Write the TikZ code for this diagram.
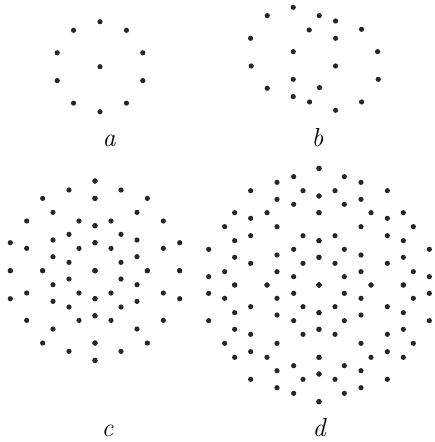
\documentclass[tikz,border=0pt]{standalone}
\usetikzlibrary{positioning}

\begin{document}
\begin{tikzpicture}[
  x=1pt, y=-1pt,
  spot/.style={fill=black!85},
  lbl/.style={font=\fontsize{26}{30}\selectfont\itshape, anchor=base, inner sep=0pt}
]
\useasboundingbox (0,0) rectangle (435,442);
% centres of the four patterns
\coordinate (ca) at (100,66.7);
\coordinate (cb) at (314.4,58.8);
\coordinate (cc) at (95,270.7);
\coordinate (cd) at (319,285);
% a: centre and a ring of ten
\fill[spot] (ca) circle (2.6pt);
\foreach \k in {0,...,9}
  \fill[spot] (ca) ++(18+36*\k:45) circle (2.6pt);
% b: ten spots and their images through the centre
\foreach \dx/\dy in {-63.5/-154.5, -141.5/-129.5, 14.5/-129.5, 63.5/-113.5,
    -15.5/-86.5, 141.5/-88.5, -191.5/-61.5, 63.5/-61.5, -63.5/-21.5, 189.5/-21.5}{
  \fill[spot] (cb) ++({(\dx)/3},{(\dy)/3}) circle (2.6pt);
  \fill[spot] (cb) ++({0-(\dx)/3},{0-(\dy)/3}) circle (2.6pt);
}
% c: one quarter, mirrored both ways
\foreach \dx/\dy in {0/-269, 0/-217, 0/-135, 0/-84, 0/0, 48/-149, 48/-67,
    78/-242, 78/-109, 78/-25, 126/-175, 126/-92, 126/-42, 157/-217, 157/0,
    205/-149, 205/-67, 254/-84, 254/0}{
  \fill[spot] (cc) ++({\dx/3},{\dy/3}) circle (2.6pt);
  \fill[spot] (cc) ++({0-\dx/3},{\dy/3}) circle (2.6pt);
  \fill[spot] (cc) ++({\dx/3},{0-\dy/3}) circle (2.6pt);
  \fill[spot] (cc) ++({0-\dx/3},{0-\dy/3}) circle (2.6pt);
}
% d: same way
\foreach \dx/\dy in {0/-350, 0/-267, 0/-217, 0/-133, 0/-83, 0/0,
    48/-283, 48/-148, 48/-65, 76/-325, 76/-242, 76/-107, 76/-25,
    126/-308, 126/-257, 126/-175, 126/-90, 126/-40, 156/-217, 156/0,
    205/-283, 205/-200, 205/-148, 205/-65, 253/-217, 253/-133, 253/-83, 253/0,
    283/-175, 283/-40, 331/-107, 331/-25}{
  \fill[spot] (cd) ++({\dx/3},{\dy/3}) circle (2.6pt);
  \fill[spot] (cd) ++({0-\dx/3},{\dy/3}) circle (2.6pt);
  \fill[spot] (cd) ++({\dx/3},{0-\dy/3}) circle (2.6pt);
  \fill[spot] (cd) ++({0-\dx/3},{0-\dy/3}) circle (2.6pt);
}
\node[lbl] (la) at (109,146) {a};
\node[lbl] (lb) at (317.5,146) {b};
\node[lbl] (lc) at (107.5,436) {c};
\node[lbl] (ld) at (319,436) {d};
\end{tikzpicture}
\end{document}
